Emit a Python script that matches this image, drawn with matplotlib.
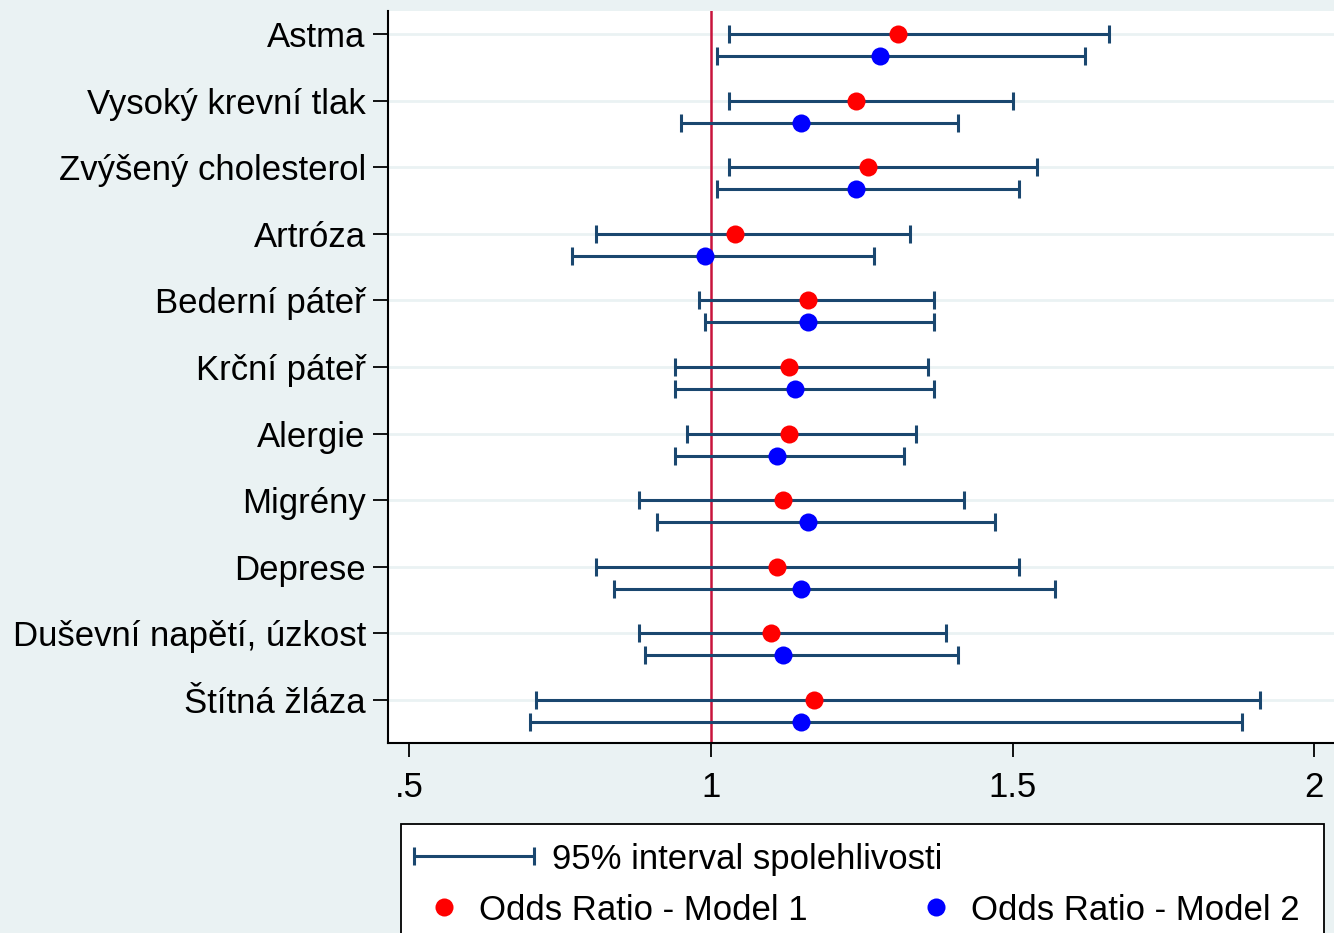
import numpy as np
import matplotlib
matplotlib.use('Agg')
import matplotlib.pyplot as plt
from matplotlib.patches import Rectangle
from matplotlib.legend_handler import HandlerErrorbar

plt.rcParams['font.family'] = ['Liberation Sans', 'DejaVu Sans']

# Categories (top to bottom)
labels = ['Astma', 'Vysoký krevní tlak', 'Zvýšený cholesterol', 'Artróza',
          'Bederní páteř', 'Krční páteř', 'Alergie', 'Migrény', 'Deprese',
          'Duševní napětí, úzkost', 'Štítná žláza']

# Model 1 odds ratios and 95% CI
or1 = np.array([1.31, 1.24, 1.26, 1.04, 1.16, 1.13, 1.13, 1.12, 1.11, 1.10, 1.17])
lo1 = np.array([1.03, 1.03, 1.03, 0.81, 0.98, 0.94, 0.96, 0.88, 0.81, 0.88, 0.71])
hi1 = np.array([1.66, 1.50, 1.54, 1.33, 1.37, 1.36, 1.34, 1.42, 1.51, 1.39, 1.91])

# Model 2 odds ratios and 95% CI
or2 = np.array([1.28, 1.15, 1.24, 0.99, 1.16, 1.14, 1.11, 1.16, 1.15, 1.12, 1.15])
lo2 = np.array([1.01, 0.95, 1.01, 0.77, 0.99, 0.94, 0.94, 0.91, 0.84, 0.89, 0.70])
hi2 = np.array([1.62, 1.41, 1.51, 1.27, 1.37, 1.37, 1.32, 1.47, 1.57, 1.41, 1.88])

xticks = [0.5, 1, 1.5, 2]
xticklabels = ['.5', '1', '1.5', '2']

bg = '#EAF2F3'
ci_color = '#1A476F'
fs = 25

W, H = 1334, 933
fig = plt.figure(figsize=(W / 100, H / 100), dpi=100)
fig.patch.set_facecolor(bg)
ax = fig.add_axes([388 / W, 1 - 743 / H, (W - 388) / W, (743 - 11) / H])
ax.set_facecolor('white')

pos = np.arange(len(labels))
off = 0.33

ci = ax.errorbar(or1, pos, xerr=[or1 - lo1, hi1 - or1], fmt='none', ecolor=ci_color,
                 elinewidth=2.2, capsize=6.5, capthick=2.2, zorder=3)
ax.errorbar(or2, pos + off, xerr=[or2 - lo2, hi2 - or2], fmt='none', ecolor=ci_color,
            elinewidth=2.2, capsize=6.5, capthick=2.2, zorder=3)
m1, = ax.plot(or1, pos, 'o', color='red', ms=13, mec='none', zorder=4)
m2, = ax.plot(or2, pos + off, 'o', color='blue', ms=13, mec='none', zorder=4)

ax.axvline(1, color='#C8143C', lw=1.8, zorder=2)

ax.set_xlim(0.4646, 2.0327)
ax.set_ylim(10.645, -0.345)
ax.set_yticks(pos)
ax.set_yticklabels(labels, fontsize=fs)
ax.set_xticks(xticks)
ax.set_xticklabels(xticklabels, fontsize=fs)
ax.tick_params(axis='y', length=11, width=1.3, pad=5)
ax.tick_params(axis='x', length=10, width=1.3, pad=10)
ax.grid(axis='y', color=bg, lw=2)
ax.set_axisbelow(True)
for s in ['top', 'right']:
    ax.spines[s].set_visible(False)
for s in ['left', 'bottom']:
    ax.spines[s].set_linewidth(1.5)

# legend box
fig.add_artist(Rectangle((401 / W, -0.05), (1324 - 401) / W, 1 - 824 / H + 0.05,
                         transform=fig.transFigure, facecolor='white',
                         edgecolor='black', lw=1.3, zorder=1))
fig.legend([ci], ['95% interval spolehlivosti'], loc='center left',
           bbox_to_anchor=(414 / W, 1 - 859 / H), bbox_transform=fig.transFigure,
           frameon=False, fontsize=fs, borderpad=0, borderaxespad=0,
           handlelength=3.46, handletextpad=0.5,
           handler_map={ci: HandlerErrorbar(xerr_size=1.73)})
fig.legend([m1, m2], ['Odds Ratio - Model 1', 'Odds Ratio - Model 2'], ncol=2,
           loc='center left', bbox_to_anchor=(427 / W, 1 - 910 / H),
           bbox_transform=fig.transFigure, frameon=False, fontsize=fs,
           borderpad=0, borderaxespad=0, handlelength=1.0, handletextpad=0.5,
           columnspacing=3.2)

fig.savefig('out.png', dpi=100, facecolor=bg)
